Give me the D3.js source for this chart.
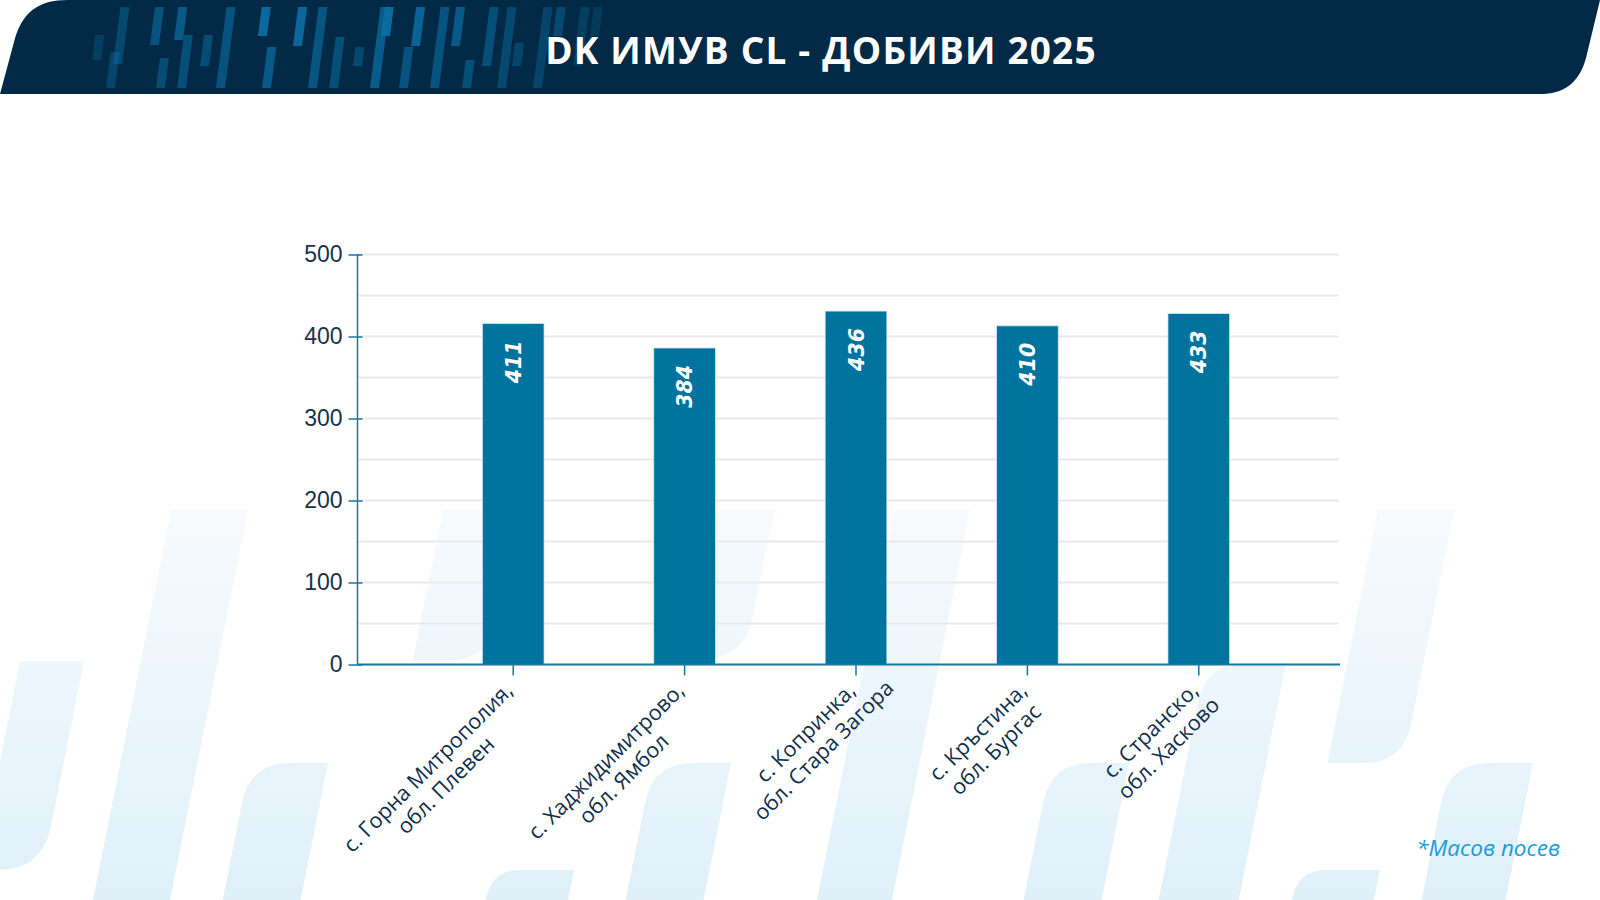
<!DOCTYPE html>
<html>
<head>
<meta charset="utf-8">
<script src="https://cdn.jsdelivr.net/npm/d3@7"></script>
<style>
  html, body { margin: 0; padding: 0; background: #ffffff; }
  svg { display: block; }
</style>
</head>
<body>
<svg id="chart" width="1600" height="900"></svg>
<script>
// ---------------- DATA ----------------
const title = "DK ИМУВ CL - ДОБИВИ 2025";
const footnote = "*Масов посев";
const categories = [
  "с. Горна Митрополия,\nобл. Плевен",
  "с. Хаджидимитрово,\nобл. Ямбол",
  "с. Копринка,\nобл. Стара Загора",
  "с. Кръстина,\nобл. Бургас",
  "с. Странско,\nобл. Хасково"
];
// bar heights as drawn in the picture
const barValues = [416, 386, 431, 413, 428];
// numbers printed inside the bars
const valueLabels = ["411", "384", "436", "410", "433"];
const yTickValues = [0, 100, 200, 300, 400, 500];
const gridValues = [50, 100, 150, 200, 250, 300, 350, 400, 450, 500];

// decorative header dashes: [bottom x, top y, bottom y, opacity]
const headerDashes = [
  [92, 35, 60, 0.30], [106, 52, 88, 0.40], [113, 7, 64, 0.45],
  [150, 7, 45, 0.60], [156, 58, 88, 0.50], [174, 7, 40, 0.70],
  [177, 35, 88, 0.55], [200, 35, 66, 0.50], [216, 7, 88, 0.60],
  [258, 7, 36, 0.95], [262, 47, 88, 0.70], [293, 7, 46, 0.90],
  [308, 7, 88, 0.65], [329, 37, 88, 0.55], [353, 47, 66, 0.45],
  [370, 7, 88, 0.75], [381, 7, 36, 0.95], [399, 47, 88, 0.60],
  [411, 7, 46, 0.85], [430, 7, 88, 0.60], [451, 7, 46, 0.70],
  [462, 60, 88, 0.55], [482, 7, 66, 0.55], [497, 7, 88, 0.45],
  [512, 43, 66, 0.40], [533, 7, 88, 0.40], [553, 7, 36, 0.45],
  [573, 7, 66, 0.30], [590, 7, 36, 0.25]
];

// ---------------- SETUP ----------------
const svg = d3.select("#chart");
const defs = svg.append("defs");
const grad = defs.append("linearGradient")
  .attr("id", "wm").attr("gradientUnits", "userSpaceOnUse")
  .attr("x1", 0).attr("y1", 500).attr("x2", 0).attr("y2", 900);
grad.append("stop").attr("offset", 0).attr("stop-color", "#f8fbfe");
grad.append("stop").attr("offset", 1).attr("stop-color", "#dff0f9");

// ---------------- BACKGROUND WATERMARK ----------------
const wm = svg.append("g").attr("fill", "url(#wm)");
function stripe(xTopL, yTop, w, yBot, slant, rTL, rBR) {
  const dx = (yBot - yTop) * slant;
  const p = d3.path();
  const xBL = xTopL - dx;
  if (rTL) {
    p.moveTo(xBL, yBot);
    p.lineTo(xTopL - rTL * slant, yTop + rTL);
    p.quadraticCurveTo(xTopL, yTop, xTopL + rTL, yTop);
  } else {
    p.moveTo(xBL, yBot);
    p.lineTo(xTopL, yTop);
  }
  p.lineTo(xTopL + w, yTop);
  if (rBR) {
    p.lineTo(xBL + w + rBR * slant, yBot - rBR);
    p.quadraticCurveTo(xBL + w, yBot, xBL + w - rBR, yBot);
  } else {
    p.lineTo(xBL + w, yBot);
  }
  p.closePath();
  return p.toString();
}
const wmShapes = [
  stripe(171, 510, 77, 900, 0.2, 0, 0),
  stripe(20, 661, 64, 870, 0.2, 0, 44),
  stripe(443, 510, 77, 660, 0.2, 0, 40),
  stripe(694, 510, 80, 658, 0.2, 0, 40),
  stripe(895, 510, 75, 900, 0.2, 0, 0),
  stripe(1378, 510, 76, 763, 0.2, 0, 40),
  stripe(1206, 663, 80, 900, 0.2, 40, 0),
  stripe(250, 763, 78, 900, 0.2, 40, 0),
  stripe(653, 763, 78, 900, 0.2, 40, 0),
  stripe(1051, 763, 78, 900, 0.2, 40, 0),
  stripe(1449, 763, 84, 900, 0.2, 40, 0),
  stripe(492, 870, 82, 900, 0.2, 28, 0),
  stripe(1298, 870, 82, 900, 0.2, 28, 0)
];
wm.selectAll("path").data(wmShapes).join("path").attr("d", d => d);

// ---------------- HEADER ----------------
svg.append("path")
  .attr("d", "M0,94 L14,42 C22,12 38,0 68,0 L1600,0 L1586,58 C1579,84 1563,94 1540,94 Z")
  .attr("fill", "#022a46");
const dashG = svg.append("g").attr("fill", "#0b6ea3");
dashG.selectAll("path").data(headerDashes).join("path")
  .attr("d", d => {
    const [xb, yt, yb] = d, w = 9, s = 0.13;
    const xt = xb + (yb - yt) * s;
    return `M${xb},${yb} L${xt},${yt} L${xt + w},${yt} L${xb + w},${yb} Z`;
  })
  .attr("opacity", d => d[3]);
svg.append("text")
  .attr("x", 821).attr("y", 64)
  .attr("text-anchor", "middle")
  .attr("font-family", "'Open Sans', 'Noto Sans', sans-serif")
  .attr("font-weight", 700)
  .attr("font-size", 37)
  .attr("letter-spacing", 1.2)
  .attr("fill", "#ffffff")
  .text(title);

// ---------------- SCALES ----------------
const axisX0 = 357.5, axisX1 = 1340;
const y = d3.scaleLinear().domain([0, 500]).range([664.5, 254.5]);
const x = d3.scaleBand().domain(categories)
  .range([427.5, 1284.5]).paddingInner(0.64).paddingOuter(0.32);

// ---------------- GRID ----------------
svg.append("g").selectAll("line").data(gridValues).join("line")
  .attr("x1", axisX0 + 1).attr("x2", axisX1 - 1)
  .attr("y1", d => y(d)).attr("y2", d => y(d))
  .attr("stroke", "#e9e9e9").attr("stroke-width", 2);

// ---------------- BARS ----------------
svg.append("g").selectAll("rect").data(categories).join("rect")
  .attr("x", d => x(d))
  .attr("width", x.bandwidth())
  .attr("y", (d, i) => y(barValues[i]))
  .attr("height", (d, i) => y(0) - y(barValues[i]))
  .attr("fill", "#00739e")
  .attr("stroke", "#d6e8f0").attr("stroke-width", 0.8);

// value labels
svg.append("g").selectAll("text").data(categories).join("text")
  .attr("transform", (d, i) =>
    `translate(${x(d) + x.bandwidth() / 2 + 7.5},${y(barValues[i]) + 17}) rotate(-90)`)
  .attr("text-anchor", "end")
  .attr("font-family", "'DejaVu Sans', sans-serif")
  .attr("font-weight", 700)
  .attr("font-style", "italic")
  .attr("font-size", 20.5)
  .attr("fill", "#ffffff")
  .text((d, i) => valueLabels[i]);

// ---------------- Y AXIS ----------------
const yAxis = svg.append("g")
  .attr("transform", `translate(${axisX0},0)`)
  .call(d3.axisLeft(y).tickValues(yTickValues).tickSize(9).tickPadding(6).tickFormat(d3.format("d")));
yAxis.select(".domain").attr("d", `M0,${y(500) - 0.5}V${y(0)}`)
  .attr("stroke", "#1677a6").attr("stroke-width", 1.5);
yAxis.selectAll(".tick line").attr("x1", 5).attr("stroke", "#1677a6").attr("stroke-width", 1.5);
yAxis.selectAll(".tick text")
  .attr("font-family", "'Liberation Sans', Arial, sans-serif")
  .attr("font-size", 23)
  .attr("fill", "#17324d");

// ---------------- X AXIS ----------------
const xAxis = svg.append("g")
  .attr("transform", `translate(0,${y(0)})`)
  .call(d3.axisBottom(x).tickSize(11).tickFormat(""));
xAxis.select(".domain").attr("d", `M${axisX0},0H${axisX1}`)
  .attr("stroke", "#1677a6").attr("stroke-width", 2);
xAxis.selectAll(".tick line").attr("stroke", "#1677a6").attr("stroke-width", 1.5);

// rotated two-line category labels: first line ends at the tick, next lines centred on it
const lblG = svg.append("g")
  .attr("font-family", "'Open Sans', 'Noto Sans', sans-serif")
  .attr("font-size", 21.5)
  .attr("fill", "#0f2f4c");
categories.forEach(cat => {
  const cx = x(cat) + x.bandwidth() / 2;
  const g = lblG.append("g").attr("transform", `translate(${cx + 1},${692}) rotate(-45)`);
  const lines = cat.split("\n");
  const texts = lines.map((l, i) =>
    g.append("text").attr("y", i * 25).attr("text-anchor", "middle").text(l));
  const w1 = texts[0].node().getComputedTextLength();
  texts.forEach(t => t.attr("x", -w1 / 2));
});

// ---------------- FOOTNOTE ----------------
svg.append("text")
  .attr("x", 1560).attr("y", 856)
  .attr("text-anchor", "end")
  .attr("font-family", "'Open Sans', 'Noto Sans', sans-serif")
  .attr("font-style", "italic")
  .attr("font-size", 22.5)
  .attr("fill", "#1b9bd7")
  .text(footnote);
</script>
</body>
</html>
